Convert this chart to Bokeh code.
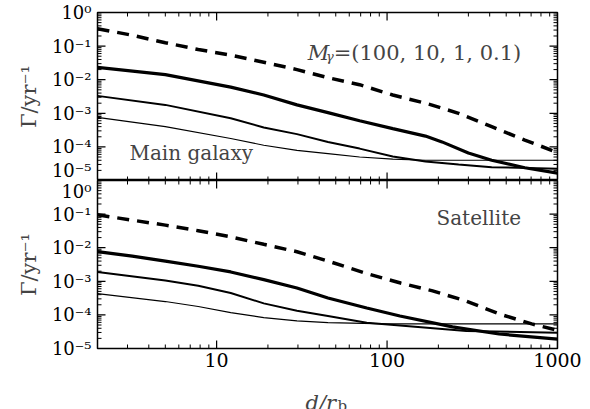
import math
from bokeh.plotting import figure
from bokeh.layouts import column
from bokeh.models import FixedTicker, LogTicker, CustomJSTickFormatter, Label
from bokeh.embed import file_html
from bokeh.resources import INLINE

# ---------------- data ----------------
masses = ["100", "10", "1", "0.1"]

# Main galaxy panel
main_d_m100 = [2, 3.2, 5, 7.8, 12.1, 18.9, 29.6, 45, 69, 108, 168, 263, 411, 643, 1000]
main_g_m100 = [0.33, 0.21, 0.126, 0.079, 0.054, 0.033, 0.020, 0.0115, 0.0071, 0.0035, 0.0020, 0.0010, 4.0e-4, 1.6e-4, 6.8e-5]

main_d_m10 = [2, 5, 12.1, 18.9, 29.6, 45, 69, 108, 168, 210, 300, 411, 643, 1000]
main_g_m10 = [0.0234, 0.0141, 0.0060, 0.0035, 0.00178, 1.05e-3, 6.0e-4, 3.5e-4, 2.1e-4, 1.41e-4, 6.6e-5, 4.0e-5, 2.4e-5, 1.66e-5]

main_d_m1 = [2, 5, 12.1, 18.9, 29.6, 45, 69, 108, 168, 263, 411, 1000]
main_g_m1 = [3.3e-3, 1.78e-3, 7.1e-4, 3.8e-4, 2.4e-4, 1.4e-4, 8.9e-5, 5.2e-5, 3.7e-5, 3.0e-5, 2.5e-5, 2.24e-5]

main_d_m01 = [2, 5, 12.1, 18.9, 29.6, 45, 69, 108, 168, 1000]
main_g_m01 = [7.6e-4, 4.0e-4, 1.78e-4, 1.12e-4, 7.9e-5, 6.3e-5, 5.0e-5, 4.3e-5, 4.0e-5, 4.0e-5]

# Satellite panel
sat_d_m100 = [2, 3.2, 5, 7.8, 12.1, 18.9, 29.6, 45, 76, 120, 185, 290, 454, 706, 1000]
sat_g_m100 = [0.095, 0.066, 0.047, 0.032, 0.021, 0.0126, 0.0076, 0.0040, 0.0017, 8.9e-4, 5.2e-4, 2.6e-4, 1.07e-4, 5.4e-5, 3.5e-5]

sat_d_m10 = [2, 3.2, 5, 7.8, 12.1, 18.9, 29.6, 45, 76, 119, 242, 454, 1000]
sat_g_m10 = [7.6e-3, 5.6e-3, 4.0e-3, 2.8e-3, 1.9e-3, 1.12e-3, 6.3e-4, 3.2e-4, 1.6e-4, 9.3e-5, 4.4e-5, 2.7e-5, 1.9e-5]

sat_d_m1 = [2, 5, 7.8, 12.1, 18.9, 29.6, 45, 76, 292, 1000]
sat_g_m1 = [1.9e-3, 1.05e-3, 7.4e-4, 4.5e-4, 2.2e-4, 1.32e-4, 9.3e-5, 5.8e-5, 3.3e-5, 2.95e-5]

sat_d_m01 = [2, 5, 7.8, 12.1, 18.9, 29.6, 45, 100, 1000]
sat_g_m01 = [4.3e-4, 2.5e-4, 1.78e-4, 1.17e-4, 8.3e-5, 6.6e-5, 5.9e-5, 5.4e-5, 5.4e-5]

panel_names = ["Main galaxy", "Satellite"]
x_label = ["d/r", "b"]
y_label = "\u0393/yr\u207b\u00b9"

# tick positions (drawn inward on all four sides)
x_major_ticks = [10, 100, 1000]
x_minor_ticks = [3, 4, 5, 6, 7, 8, 9, 20, 30, 40, 50, 60, 70, 80, 90,
                 200, 300, 400, 500, 600, 700, 800, 900]
y_major_ticks = [1e-5, 1e-4, 1e-3, 1e-2, 1e-1, 1]
y_minor_mantissas = [2, 3, 4, 5, 6, 7, 8, 9]
y_minor_ticks = [m * d for d in y_major_ticks[:-1] for m in y_minor_mantissas]

X_LO, X_HI = 2, 1000
Y_LO, Y_HI = 1e-5, 1

# layout constants (pixels)
LEFT, RIGHT, TOP = 97, 33, 12
FRAME_W, FRAME_H = 460, 168
BOTTOM_AXIS = 36
STRIP_H = 409 - TOP - 2 * FRAME_H - BOTTOM_AXIS
MAJOR_LEN, MINOR_LEN = 8, 4

# the tick labels that sit on the shared border are nudged into their own panel
NUDGE_UP, NUDGE_DOWN = 1.6, 1.8

SERIF = "DejaVu Serif"
NAN = float("nan")

EXP_CODE = """
const e = Math.round(Math.log10(tick));
const sup = {'-':'\u207b','0':'\u2070','1':'\u00b9','2':'\u00b2','3':'\u00b3','4':'\u2074','5':'\u2075'};
return '10' + String(e).split('').map(c => sup[c]).join('');
"""

PPD_X = FRAME_W / math.log10(X_HI / X_LO)   # pixels per decade
PPD_Y = FRAME_H / math.log10(Y_HI / Y_LO)


def inward_ticks(p):
    # each tick is one short piece of a NaN-separated line, on all four sides
    for major in (True, False):
        n = MAJOR_LEN if major else MINOR_LEN
        fx = 10 ** (n / PPD_X)
        fy = 10 ** (n / PPD_Y)
        ys = y_major_ticks if major else y_minor_ticks
        xs = x_major_ticks if major else x_minor_ticks
        px, py = [], []
        for t in ys:
            px += [X_LO, X_LO * fx, NAN, X_HI, X_HI / fx, NAN]
            py += [t, t, NAN, t, t, NAN]
        for t in xs:
            px += [t, t, NAN, t, t, NAN]
            py += [Y_LO, Y_LO * fy, NAN, Y_HI, Y_HI / fy, NAN]
        p.line(px, py, line_color="black", line_width=1.2 if major else 1.0)


def make_panel(top, ticks, panels):
    p = figure(x_axis_type="log", y_axis_type="log",
               x_range=(X_LO, X_HI), y_range=(Y_LO, Y_HI),
               frame_width=FRAME_W, frame_height=FRAME_H,
               min_border_left=LEFT, min_border_right=RIGHT,
               min_border_top=TOP if top else 0,
               min_border_bottom=0 if top else BOTTOM_AXIS,
               output_backend="svg", toolbar_location=None,
               background_fill_color="white", border_fill_color="white")
    p.grid.visible = False
    p.outline_line_color = "black"
    p.outline_line_width = 1.5
    ax = p.yaxis[0]
    ax.ticker = FixedTicker(ticks=ticks, minor_ticks=[])
    ax.major_tick_in = 0
    ax.major_tick_out = 0
    ax.minor_tick_in = 0
    ax.minor_tick_out = 0
    ax.axis_line_color = None
    ax.formatter = CustomJSTickFormatter(code=EXP_CODE)
    ax.major_label_text_font = SERIF
    ax.major_label_text_font_size = "18px"
    ax.major_label_text_color = "black"
    ax.major_label_standoff = 6
    ax.axis_label = y_label
    ax.axis_label_text_font = SERIF
    ax.axis_label_text_font_style = "normal"
    ax.axis_label_text_font_size = "21px"
    ax.axis_label_standoff = 8
    if top:
        p.xaxis.visible = False
    else:
        xa = p.xaxis[0]
        xa.ticker = LogTicker(num_minor_ticks=10)
        xa.major_tick_in = 0
        xa.major_tick_out = 0
        xa.minor_tick_in = 0
        xa.minor_tick_out = 0
        xa.axis_line_color = None
        xa.formatter = CustomJSTickFormatter(code="return String(Math.round(tick));")
        xa.major_label_text_font = SERIF
        xa.major_label_text_font_size = "19px"
        xa.major_label_text_color = "black"
        xa.major_label_standoff = 4

    (d100, g100), (d10, g10), (d1, g1), (d01, g01) = panels
    p.line(d100, g100, line_color="black", line_width=3.5, line_dash="12 8")
    p.line(d10, g10, line_color="black", line_width=3.2)
    p.line(d1, g1, line_color="black", line_width=2.0)
    p.line(d01, g01, line_color="black", line_width=1.2)
    inward_ticks(p)
    return p


top_ticks = [y_major_ticks[0] * NUDGE_UP] + y_major_ticks[1:]
bottom_ticks = y_major_ticks[:-1] + [y_major_ticks[-1] / NUDGE_DOWN]

p1 = make_panel(True, top_ticks, [(main_d_m100, main_g_m100), (main_d_m10, main_g_m10),
                                  (main_d_m1, main_g_m1), (main_d_m01, main_g_m01)])
p2 = make_panel(False, bottom_ticks, [(sat_d_m100, sat_g_m100), (sat_d_m10, sat_g_m10),
                                      (sat_d_m1, sat_g_m1), (sat_d_m01, sat_g_m01)])

# annotations
p1.add_layout(Label(x=34.3, y=0.063, text="M", text_font=SERIF, text_font_style="italic",
                    text_font_size="21px", text_baseline="alphabetic"))
p1.add_layout(Label(x=43.8, y=0.063, y_offset=-4, text="\u03b3", text_font=SERIF,
                    text_font_style="italic", text_font_size="13px", text_baseline="alphabetic"))
p1.add_layout(Label(x=48.6, y=0.063, text="=(" + ", ".join(masses) + ")", text_font=SERIF,
                    text_font_size="21px", text_baseline="alphabetic"))
p1.add_layout(Label(x=3.08, y=6.5e-5, text=panel_names[0], text_font=SERIF,
                    text_font_size="20px", text_baseline="alphabetic"))
p2.add_layout(Label(x=195, y=0.074, text=panel_names[1], text_font=SERIF,
                    text_font_size="20px", text_baseline="alphabetic"))

# bottom strip holding the x-axis title d/r_b
p3 = figure(x_axis_type="log", x_range=(X_LO, X_HI), y_range=(0, STRIP_H),
            frame_width=FRAME_W, height=STRIP_H,
            min_border_left=LEFT, min_border_right=RIGHT,
            min_border_top=0, min_border_bottom=0,
            x_axis_location=None, y_axis_location=None,
            output_backend="svg", toolbar_location=None, outline_line_color=None,
            background_fill_color="white", border_fill_color="white")
p3.grid.visible = False
p3.add_layout(Label(x=208, y=7, x_units="screen", text=x_label[0], text_font=SERIF,
                    text_font_style="italic", text_font_size="21px", text_baseline="alphabetic"))
p3.add_layout(Label(x=240, y=4, x_units="screen", text=x_label[1], text_font=SERIF,
                    text_font_size="15px", text_baseline="alphabetic"))

layout = column(p1, p2, p3, spacing=0)
open("out.html", "w").write(file_html(layout, INLINE))
